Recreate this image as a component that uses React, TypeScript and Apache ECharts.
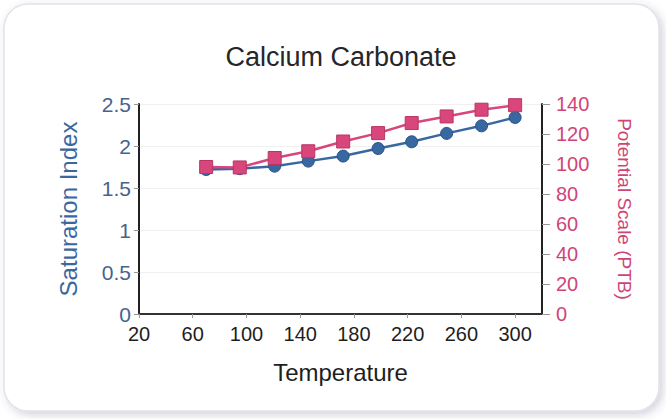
import React, { useEffect, useRef } from "react";
import * as echarts from "echarts";

const titleText = "Calcium Carbonate";
const temperatures = [70, 95, 121, 146, 172, 198, 223, 249, 275, 300];
const saturationIndex = [1.72, 1.73, 1.76, 1.82, 1.88, 1.97, 2.05, 2.15, 2.24, 2.34];
const potentialScale = [98, 97.7, 104, 108.5, 115, 120.6, 127.3, 131.7, 136.2, 139.2];

const FONT = "'Liberation Sans', Arial, Helvetica, sans-serif";
const BLUE = "#3868a2";
const PINK = "#d8467c";

export default function App() {
  const ref = useRef<HTMLDivElement>(null);
  useEffect(() => {
    document.body.style.margin = "0";
    if (!ref.current) return;
    const chart = echarts.init(ref.current, undefined, { renderer: "svg" });
    chart.setOption({
      animation: false,
      backgroundColor: "#ffffff",
      textStyle: { fontFamily: FONT },
      graphic: [
        {
          type: "rect",
          z: -100,
          silent: true,
          shape: { x: 4, y: 4, width: 655, height: 407, r: 24 },
          style: {
            fill: "#ffffff",
            stroke: "#e2e2ea",
            lineWidth: 1.5,
            shadowBlur: 8,
            shadowColor: "rgba(70,70,110,0.25)",
            shadowOffsetX: 3,
            shadowOffsetY: 3,
          },
        },
      ],
      title: {
        text: titleText,
        left: 341,
        textAlign: "center",
        top: 43,
        padding: 0,
        textStyle: { fontFamily: FONT, fontSize: 27, fontWeight: "normal", color: "#26262a" },
      },
      grid: { left: 139, right: 124, top: 104, bottom: 105 },
      xAxis: {
        type: "value",
        min: 20,
        max: 320,
        interval: 40,
        name: "Temperature",
        nameLocation: "middle",
        nameGap: 46,
        nameTextStyle: { fontFamily: FONT, fontSize: 24, color: "#1e1e1e" },
        axisLine: { show: true, onZero: false, lineStyle: { color: "#333", width: 2 } },
        axisTick: { show: true, length: 4, lineStyle: { color: "#999" } },
        axisLabel: { showMaxLabel: false, margin: 10, fontSize: 20, color: "#1e1e1e", fontFamily: FONT },
        splitLine: { show: false },
      },
      yAxis: [
        {
          type: "value",
          min: 0,
          max: 2.5,
          interval: 0.5,
          position: "left",
          name: "Saturation Index",
          nameLocation: "middle",
          nameGap: 59,
          nameTextStyle: { fontFamily: FONT, fontSize: 24, color: "#3a67a0" },
          axisLine: { show: true, lineStyle: { color: "#222", width: 2 } },
          axisTick: { show: true, length: 5, lineStyle: { color: "#999" } },
          axisLabel: { margin: 8, fontSize: 21, color: "#45638e", fontFamily: FONT },
          splitLine: { show: true, lineStyle: { color: "#f0f0f0" } },
        },
        {
          type: "value",
          min: 0,
          max: 140,
          interval: 20,
          position: "right",
          name: "Potential Scale (PTB)",
          nameLocation: "middle",
          nameRotate: -90,
          nameGap: 73,
          nameTextStyle: { fontFamily: FONT, fontSize: 19, color: "#cf4476" },
          axisLine: { show: true, lineStyle: { color: "#222", width: 2 } },
          axisTick: { show: true, length: 8, lineStyle: { color: "#999" } },
          axisLabel: { margin: 14, fontSize: 20, color: "#d0447a", fontFamily: FONT },
          splitLine: { show: false },
        },
      ],
      series: [
        {
          type: "line",
          yAxisIndex: 0,
          data: temperatures.map((t, i) => [t, saturationIndex[i]]),
          symbol: "circle",
          symbolSize: 12,
          lineStyle: { color: BLUE, width: 2.5 },
          itemStyle: { color: BLUE, borderColor: "#2a5283", borderWidth: 1 },
        },
        {
          type: "line",
          yAxisIndex: 1,
          data: temperatures.map((t, i) => [t, potentialScale[i]]),
          symbol: "rect",
          symbolSize: 13,
          lineStyle: { color: PINK, width: 2.5 },
          itemStyle: { color: PINK, borderColor: "#b83666", borderWidth: 1 },
        },
      ],
    });
    return () => chart.dispose();
  }, []);
  return <div ref={ref} style={{ width: 666, height: 419 }} />;
}
